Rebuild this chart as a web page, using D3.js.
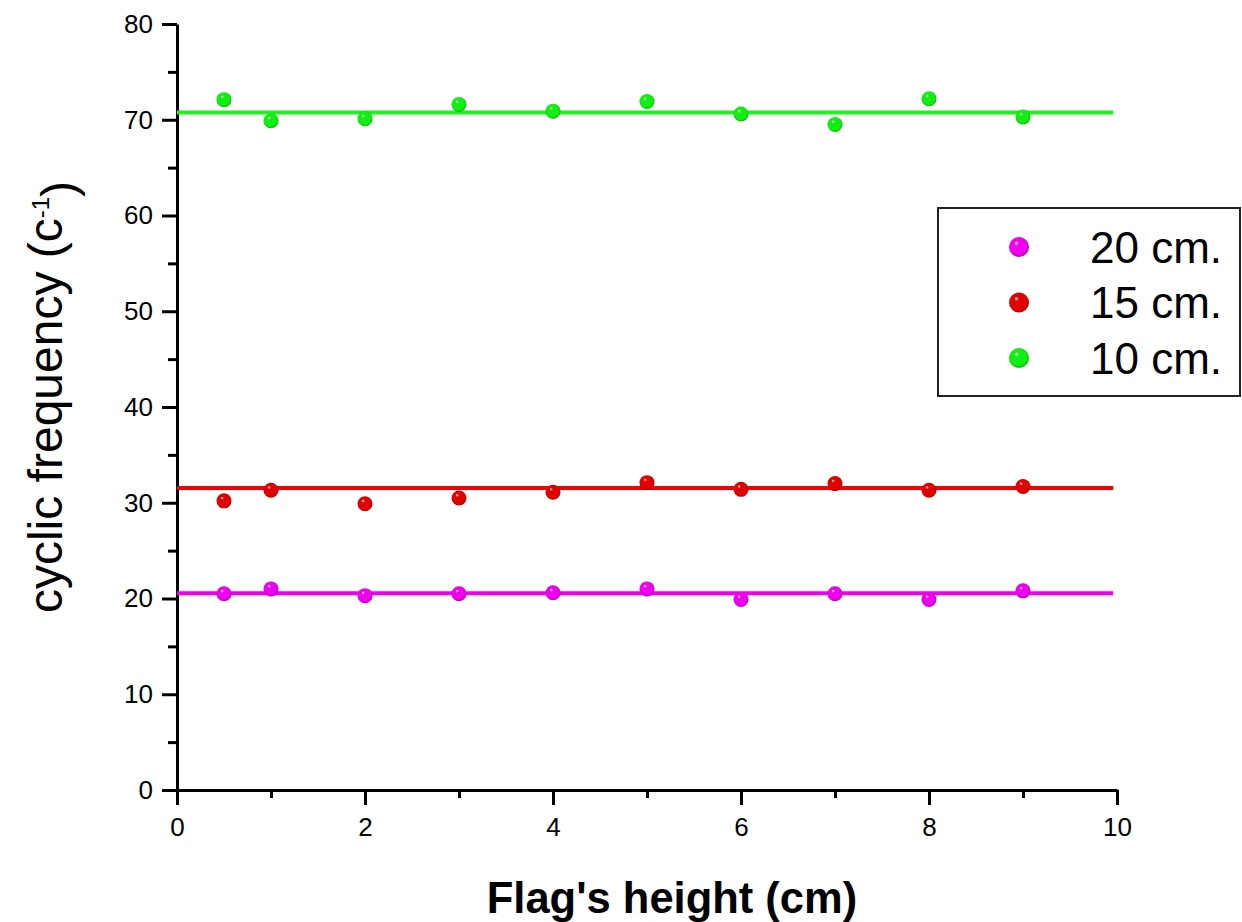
<!DOCTYPE html>
<html>
<head>
<meta charset="utf-8">
<title>cyclic frequency vs flag's height</title>
<script src="https://cdn.jsdelivr.net/npm/d3@7"></script>
<style>
	html, body { margin: 0; padding: 0; background: #fff; }
	svg { display: block; font-family: Arial, "Liberation Sans", sans-serif; }
</style>
</head>
<body>
<svg id="graph" width="1242" height="922"></svg>
<script>
;(() => {
	'use strict';

	// flag's height (cm)
	const heights = [0.5, 1, 2, 3, 4, 5, 6, 7, 8, 9];

	// cyclic frequency for each flag length
	const freq20 = [20.5, 21.0, 20.3, 20.5, 20.6, 21.0, 19.9, 20.5, 19.9, 20.8],
		freq15 = [30.2, 31.3, 29.9, 30.5, 31.1, 32.1, 31.4, 32.0, 31.3, 31.7],
		freq10 = [72.1, 69.9, 70.1, 71.6, 70.9, 71.9, 70.6, 69.5, 72.2, 70.3];

	// horizontal fit levels and their x range
	const fitLevels = [20.55, 31.55, 70.75],
		fitRange = [0, 9.96];

	const seriesNames = ['20 cm.', '15 cm.', '10 cm.'],
		xTicks = [0, 2, 4, 6, 8, 10],
		xMinorTicks = [1, 3, 5, 7, 9],
		yTicks = [0, 10, 20, 30, 40, 50, 60, 70, 80],
		yMinorTicks = [5, 15, 25, 35, 45, 55, 65, 75];

	const colors = ['#ee00ee', '#e00000', '#11ee11'],
		darkColors = ['#a000a8', '#a00000', '#00a800'],
		lineColors = ['#ee00ee', '#ee0000', '#22ee22'];

	const margin = {top: 24, left: 177},
		width = 940,
		height = 766,
		pointRadius = 7.5;

	const svg = d3.select('#graph');

	const x = d3.scaleLinear().domain([0, 10]).range([margin.left, margin.left + width]),
		y = d3.scaleLinear().domain([0, 80]).range([margin.top + height, margin.top]);

	const series = [freq20, freq15, freq10].map((vals, i) => ({
		name: seriesNames[i],
		fit: fitLevels[i],
		points: vals.map((v, j) => ({x: heights[j], y: v}))
	}));

	// shiny ball gradients
	const defs = svg.append('defs');
	colors.forEach((c, i) => {
		const g = defs.append('radialGradient')
			.attr('id', 'ball' + i)
			.attr('cx', '50%').attr('cy', '50%').attr('r', '55%')
			.attr('fx', '35%').attr('fy', '28%');
		g.append('stop').attr('offset', '0%').attr('stop-color', '#fff0f0');
		g.append('stop').attr('offset', '22%').attr('stop-color', c);
		g.append('stop').attr('offset', '75%').attr('stop-color', c);
		g.append('stop').attr('offset', '100%').attr('stop-color', darkColors[i]);
	});


	/**
	* draw both axes with outward ticks
	* @returns {undefined}
	*/
	const drawAxes = function() {
		const xAxis = svg.append('g')
			.attr('transform', 'translate(0,' + (margin.top + height) + ')')
			.call(d3.axisBottom(x).tickValues(xTicks).tickSize(15).tickPadding(8).tickSizeOuter(0));
		svg.append('g')
			.attr('transform', 'translate(0,' + (margin.top + height) + ')')
			.call(d3.axisBottom(x).tickValues(xMinorTicks).tickSize(8).tickFormat('').tickSizeOuter(0))
			.select('.domain').remove();

		svg.append('g')
			.attr('transform', 'translate(' + margin.left + ',0)')
			.call(d3.axisLeft(y).tickValues(yTicks).tickSize(15).tickPadding(9).tickSizeOuter(0));
		svg.append('g')
			.attr('transform', 'translate(' + margin.left + ',0)')
			.call(d3.axisLeft(y).tickValues(yMinorTicks).tickSize(9).tickFormat('').tickSizeOuter(0))
			.select('.domain').remove();

		svg.selectAll('.domain').attr('stroke', '#000').attr('stroke-width', 3);
		svg.selectAll('.tick line').attr('stroke', '#000').attr('stroke-width', 3);
		svg.selectAll('.tick text')
			.attr('fill', '#000')
			.style('font-size', '26px')
			.style('font-family', 'Arial, "Liberation Sans", sans-serif');
		xAxis.selectAll('.tick text').attr('dy', '0.9em');

		// axis titles
		svg.append('text')
			.attr('x', 672)
			.attr('y', 913)
			.attr('text-anchor', 'middle')
			.style('font-size', '43.5px')
			.style('font-weight', 'bold')
			.text('Flag\'s height (cm)');

		const yTitle = svg.append('text')
			.attr('transform', 'translate(62,397) rotate(-90)')
			.attr('text-anchor', 'middle')
			.style('font-size', '48px')
			.text('cyclic frequency (c');
		yTitle.append('tspan')
			.attr('dy', '-0.55em')
			.style('font-size', '24px')
			.text('-1');
		yTitle.append('tspan')
			.attr('dy', '0.55em')
			.text(')');
	};


	/**
	* fit lines and data points
	* @returns {undefined}
	*/
	const drawSeries = function() {
		series.forEach((s, i) => {
			svg.append('line')
				.attr('x1', x(fitRange[0]))
				.attr('x2', x(fitRange[1]))
				.attr('y1', y(s.fit))
				.attr('y2', y(s.fit))
				.attr('stroke', lineColors[i])
				.attr('stroke-width', 4);
		});

		series.forEach((s, i) => {
			svg.append('g').selectAll('circle')
				.data(s.points)
				.enter()
				.append('circle')
				.attr('cx', (d) => x(d.x))
				.attr('cy', (d) => y(d.y))
				.attr('r', pointRadius)
				.attr('fill', 'url(#ball' + i + ')');
		});
	};


	/**
	* legend box top right
	* @returns {undefined}
	*/
	const drawLegend = function() {
		const legend = svg.append('g').attr('transform', 'translate(938,208)');
		legend.append('rect')
			.attr('width', 302)
			.attr('height', 188)
			.attr('fill', '#fff')
			.attr('stroke', '#222')
			.attr('stroke-width', 2);

		const items = legend.selectAll('.legend-item')
			.data(series)
			.enter()
			.append('g')
			.attr('class', 'legend-item')
			.attr('transform', (d, i) => 'translate(0,' + (39 + i * 55.5) + ')');
		items.append('circle')
			.attr('cx', 81)
			.attr('r', 10)
			.attr('fill', (d, i) => 'url(#ball' + i + ')');
		items.append('text')
			.attr('x', 152)
			.attr('dy', '0.36em')
			.style('font-size', '44px')
			.text((d) => d.name);
	};

	drawAxes();
	drawSeries();
	drawLegend();

})();
</script>
</body>
</html>
